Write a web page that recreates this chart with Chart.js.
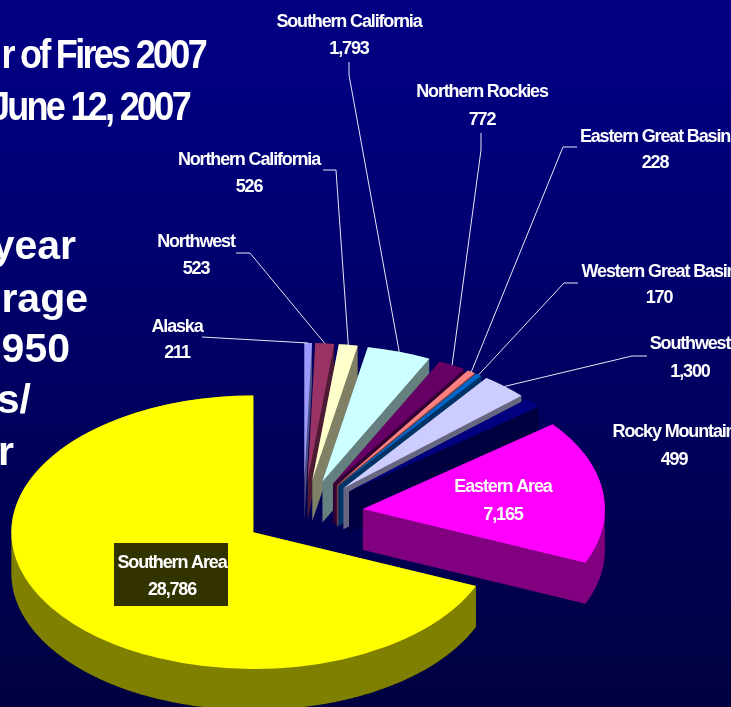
<!DOCTYPE html>
<html>
<head>
<meta charset="utf-8">
<title>Number of Fires 2007</title>
<script src="https://cdn.jsdelivr.net/npm/chart.js@4"></script>
<style>
  html, body { margin: 0; padding: 0; width: 731px; height: 707px; overflow: hidden; }
  body { background: linear-gradient(to bottom, #000080 0%, #000080 12%, #000040 100%); }
  canvas { display: block; }
</style>
</head>
<body>
<canvas id="fires" width="731" height="707"></canvas>
<script>
// Fires by geographic area, clockwise from twelve o'clock
const areas = ['Alaska', 'Northwest', 'Northern California', 'Southern California',
  'Northern Rockies', 'Eastern Great Basin', 'Western Great Basin', 'Southwest',
  'Rocky Mountain', 'Eastern Area', 'Southern Area'];
const fires = [211, 523, 526, 1793, 772, 228, 170, 1300, 499, 7165, 28786];
const sliceColors = ['#9999FF', '#993366', '#FFFFCC', '#CCFFFF', '#660066', '#FF8080',
  '#0066CC', '#CCCCFF', '#000080', '#FF00FF', '#FFFF00'];

// Headline fragments
const titleLines = ['r of Fires 2007', 'June 12, 2007'];
const noteLines = ['year', 'rage', '950', 's/', 'r'];

// Tilted-disc drawing parameters
const discCenter = { x: 303.4, y: 513.6 };
const discRadius = 242;
const tilt = 0.565;
const explode = 60;
const depth = 41;

// Label placement, index-aligned with areas: centre x, first and second baselines
const labelX = [177, 196, 249, 349, 482, 655, 659, 690, 674, 503, 172];
const labelY1 = [332, 247, 165, 27, 97, 142, 277, 349, 437, 492, 568];
const labelY2 = [358, 274, 192, 54, 125, 168, 303, 377, 465, 520, 595];

// Leader polylines from the label to the knee; the last leg runs to the slice rim
const leaders = [
  [[202, 337]],
  [[236, 253], [250, 253]],
  [[323, 170], [336, 170]],
  [[349, 62], [349, 75]],
  [[481, 133], [481, 150]],
  [[577, 147], [563, 147]],
  [[578, 283], [564, 283]],
  [[647, 356], [632, 356]],
  null, null, null
];

function halfShade(hex) {
  const n = parseInt(hex.slice(1), 16);
  const c = [n >> 16, (n >> 8) & 255, n & 255].map(v => Math.round(v / 2));
  return `rgb(${c[0]},${c[1]},${c[2]})`;
}

// Outline of an arc element on the tilted plane, in canvas pixels
function wedgeOutline(arc) {
  const mid = (arc.startAngle + arc.endAngle) / 2;
  const ox = discCenter.x + Math.cos(mid) * explode;
  const oy = discCenter.y + Math.sin(mid) * explode * tilt;
  const pts = [[ox, oy]];
  const steps = Math.max(2, Math.ceil((arc.endAngle - arc.startAngle) / 0.015));
  for (let s = 0; s <= steps; s++) {
    const a = arc.startAngle + (arc.endAngle - arc.startAngle) * s / steps;
    pts.push([ox + Math.cos(a) * arc.outerRadius, oy + Math.sin(a) * arc.outerRadius * tilt]);
  }
  return pts;
}

// Adds a polygon to the current path, always wound the same way so overlaps stay filled
function addPolygon(ctx, poly) {
  let area = 0;
  poly.forEach((p, i) => {
    const q = poly[(i + 1) % poly.length];
    area += p[0] * q[1] - q[0] * p[1];
  });
  const ordered = area < 0 ? poly.slice().reverse() : poly;
  ordered.forEach((p, i) => i ? ctx.lineTo(p[0], p[1]) : ctx.moveTo(p[0], p[1]));
  ctx.closePath();
}

// Paints each arc element as an exploded, tilted wedge with a solid side wall
const tiltedPie = {
  id: 'tiltedPie',
  beforeDatasetsDraw(chart) {
    const ctx = chart.ctx;
    const arcs = chart.getDatasetMeta(0).data;
    arcs.forEach((arc, i) => {
      const mid = (arc.startAngle + arc.endAngle) / 2;
      const outline = wedgeOutline(arc);
      ctx.save();
      ctx.setTransform(1, 0, 0, 1, 0, 0);
      ctx.fillStyle = halfShade(sliceColors[i]);
      ctx.beginPath();
      addPolygon(ctx, outline.map(p => [p[0], p[1] + depth]));
      outline.forEach((p, j) => {
        const q = outline[(j + 1) % outline.length];
        addPolygon(ctx, [p, q, [q[0], q[1] + depth], [p[0], p[1] + depth]]);
      });
      ctx.fill();

      ctx.translate(discCenter.x, discCenter.y);
      ctx.scale(1, tilt);
      ctx.translate(Math.cos(mid) * explode, Math.sin(mid) * explode);
      ctx.translate(-arc.x, -arc.y);
      arc.draw(ctx);
      ctx.restore();
    });
    return false;
  },
  afterDraw(chart) {
    const ctx = chart.ctx;
    const arcs = chart.getDatasetMeta(0).data;
    ctx.save();
    ctx.setTransform(1, 0, 0, 1, 0, 0);

    // Leader lines
    ctx.strokeStyle = '#e8e8f4';
    ctx.lineWidth = 1;
    arcs.forEach((arc, i) => {
      if (!leaders[i]) return;
      const mid = (arc.startAngle + arc.endAngle) / 2;
      const r = arc.outerRadius + explode;
      ctx.beginPath();
      leaders[i].forEach((p, j) => j ? ctx.lineTo(p[0], p[1]) : ctx.moveTo(p[0], p[1]));
      ctx.lineTo(discCenter.x + Math.cos(mid) * r, discCenter.y + Math.sin(mid) * r * tilt);
      ctx.stroke();
    });

    // Backing plate behind the largest slice's label
    ctx.fillStyle = '#333300';
    ctx.fillRect(114, 543, 114, 63);

    // Area names and counts
    ctx.fillStyle = '#ffffff';
    ctx.textAlign = 'center';
    ctx.textBaseline = 'alphabetic';
    ctx.font = 'bold 18px "Liberation Sans"';
    ctx.letterSpacing = '-1.15px';
    areas.forEach((name, i) => {
      ctx.fillText(name, labelX[i], labelY1[i]);
      ctx.fillText(fires[i].toLocaleString('en-US'), labelX[i], labelY2[i]);
    });

    // Headline, set tight and slightly condensed
    ctx.textAlign = 'right';
    ctx.font = 'bold 40px "Liberation Sans"';
    ctx.letterSpacing = '-3px';
    [[titleLines[0], 205, 68], [titleLines[1], 189, 120]].forEach(([t, x, y]) => {
      ctx.save();
      ctx.translate(x, y);
      ctx.scale(0.9, 1);
      ctx.fillText(t, 0, 0);
      ctx.restore();
    });

    // Side note
    ctx.font = 'bold 41px "Liberation Sans"';
    ctx.letterSpacing = '0px';
    const noteRight = [76, 88, 70, 31, 14];
    const noteBase = [259, 312, 362, 413, 465];
    noteLines.forEach((t, i) => ctx.fillText(t, noteRight[i], noteBase[i]));
    ctx.restore();
  }
};

new Chart(document.getElementById('fires'), {
  type: 'pie',
  data: {
    labels: areas,
    datasets: [{
      data: fires,
      backgroundColor: sliceColors,
      borderWidth: 0,
      hoverOffset: 0,
      radius: discRadius
    }]
  },
  options: {
    responsive: false,
    animation: false,
    events: [],
    rotation: 0,
    plugins: { legend: { display: false }, tooltip: { enabled: false } }
  },
  plugins: [tiltedPie]
});
</script>
</body>
</html>
